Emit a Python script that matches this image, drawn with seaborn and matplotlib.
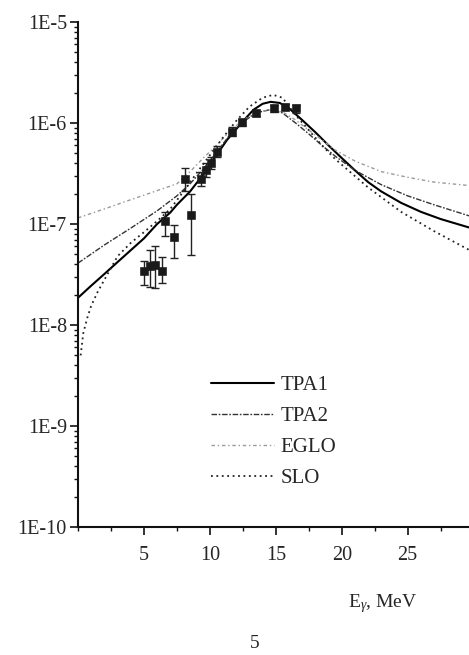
import numpy as np
import pandas as pd
import matplotlib
matplotlib.use('Agg')
import matplotlib.pyplot as plt
import matplotlib.ticker as mticker
import seaborn as sns

# --- Data (E in MeV, strength function) ---
tpa1_e = [0, 1, 2, 3, 4, 5, 6, 7, 7.5, 8.5, 9.5, 10.5, 11.3, 12.45, 13.3, 14.0, 14.6,
          15.3, 16.0, 17.0, 18.0, 19.0, 20.0, 21.0, 22.0, 23.0, 24.5, 26.0, 27.5, 29.7]
tpa1_f = [1.86e-8, 2.45e-8, 3.2e-8, 4.2e-8, 5.5e-8, 7.2e-8, 1.0e-7, 1.3e-7, 1.55e-7,
          2.1e-7, 3.1e-7, 4.8e-7, 6.8e-7, 1.02e-6, 1.35e-6, 1.55e-6, 1.62e-6,
          1.58e-6, 1.40e-6, 1.07e-6, 8.1e-7, 6.0e-7, 4.5e-7, 3.4e-7, 2.6e-7,
          2.1e-7, 1.62e-7, 1.32e-7, 1.12e-7, 9.2e-8]

tpa2_e = [0, 2, 4, 6, 7.5, 8.5, 9.5, 10.5, 11.5, 12.5, 13.5, 14.5, 15.5, 16.5,
          17.5, 18.5, 19.5, 21.0, 23.0, 25.0, 27.0, 29.7]
tpa2_f = [4.1e-8, 6.2e-8, 9.1e-8, 1.35e-7, 1.9e-7, 2.5e-7, 3.5e-7, 5.1e-7, 7.6e-7,
          1.02e-6, 1.26e-6, 1.35e-6, 1.26e-6, 1.0e-6, 7.8e-7, 6.0e-7, 4.7e-7,
          3.4e-7, 2.45e-7, 1.9e-7, 1.55e-7, 1.2e-7]

eglo_e = [0, 2, 4, 6, 7.5, 8.5, 9.5, 10.5, 11.5, 12.5, 13.5, 14.5, 15.5, 16.5,
          17.5, 18.5, 19.5, 21.0, 23.0, 25.0, 27.0, 29.7]
eglo_f = [1.15e-7, 1.41e-7, 1.74e-7, 2.14e-7, 2.5e-7, 3.3e-7, 4.5e-7, 6.0e-7,
          8.3e-7, 1.07e-6, 1.26e-6, 1.35e-6, 1.29e-6, 1.07e-6, 8.5e-7, 6.8e-7,
          5.4e-7, 4.2e-7, 3.3e-7, 2.9e-7, 2.6e-7, 2.4e-7]

slo_e = [0.2, 0.4, 0.7, 1.0, 1.5, 2, 3, 4, 5, 6, 7, 8, 9, 10, 11, 12, 13, 14,
         14.8, 15.5, 16.5, 17.5, 18.5, 19.5, 22.0, 24.5, 27.0, 29.7]
slo_f = [5.0e-9, 8.3e-9, 1.17e-8, 1.55e-8, 2.14e-8, 2.8e-8, 4.8e-8, 6.5e-8,
         8.3e-8, 1.07e-7, 1.41e-7, 2.1e-7, 3.2e-7, 4.8e-7, 7.2e-7, 1.05e-6,
         1.45e-6, 1.78e-6, 1.9e-6, 1.78e-6, 1.2e-6, 8.5e-7, 6.0e-7, 4.4e-7,
         2.3e-7, 1.32e-7, 8.5e-8, 5.5e-8]

exp_e = [5.0, 5.45, 5.85, 6.35, 6.6, 7.3, 8.1, 8.55, 9.3, 9.7, 10.06, 10.57,
         11.65, 12.45, 13.5, 14.85, 15.7, 16.5]
exp_f = [3.4e-8, 3.8e-8, 3.9e-8, 3.4e-8, 1.07e-7, 7.4e-8, 2.8e-7, 1.23e-7, 2.8e-7,
         3.4e-7, 4.0e-7, 5.2e-7, 8.2e-7, 1.02e-6, 1.25e-6, 1.40e-6, 1.45e-6, 1.40e-6]
exp_lo = [2.5e-8, 2.4e-8, 2.3e-8, 2.6e-8, 7.6e-8, 4.6e-8, 2.1e-7, 4.9e-8, 2.4e-7,
          2.9e-7, 3.5e-7, 4.6e-7, 7.4e-7, 9.4e-7, 1.16e-6, 1.30e-6, 1.35e-6, 1.27e-6]
exp_hi = [4.3e-8, 5.5e-8, 6.0e-8, 4.7e-8, 1.32e-7, 9.8e-8, 3.6e-7, 2.0e-7, 3.3e-7,
          4.0e-7, 4.6e-7, 5.9e-7, 9.1e-7, 1.10e-6, 1.35e-6, 1.50e-6, 1.56e-6, 1.52e-6]

y_ticks = [1e-10, 1e-9, 1e-8, 1e-7, 1e-6, 1e-5]
y_tick_labels = ['1E-10', '1E-9', '1E-8', '1E-7', '1E-6', '1E-5']
x_ticks = [5, 10, 15, 20, 25]

# --- Style ---
sns.set_style('ticks')
plt.rcParams['font.family'] = ['Liberation Serif', 'DejaVu Serif']
plt.rcParams['mathtext.fontset'] = 'custom'
plt.rcParams['mathtext.rm'] = 'Liberation Serif'
plt.rcParams['mathtext.it'] = 'Liberation Serif:italic'

fig = plt.figure(figsize=(4.69, 6.55), dpi=100)
ax = fig.add_axes([0.1663, 0.1954, 0.8337, 0.771])

curves = [
    ('TPA1', tpa1_e, tpa1_f, 'black', '-', 1.5),
    ('TPA2', tpa2_e, tpa2_f, '#333333', (0, (4, 1.2, 1.2, 1.2)), 1.0),
    ('EGLO', eglo_e, eglo_f, '#9a9a9a', (0, (2.5, 2, 1, 2)), 1.0),
    ('SLO', slo_e, slo_f, '#222222', (0, (1, 2)), 1.3),
]
for name, e, f, col, ls, lw in curves:
    df = pd.DataFrame({'E': e, 'f': f})
    sns.lineplot(data=df, x='E', y='f', ax=ax, color=col, linestyle=ls,
                 linewidth=lw, label=name, estimator=None, sort=True)

# experimental points with asymmetric error bars
exp = pd.DataFrame({'E': exp_e, 'f': exp_f, 'lo': exp_lo, 'hi': exp_hi})
ax.errorbar(exp['E'], exp['f'], yerr=[exp['f'] - exp['lo'], exp['hi'] - exp['f']],
            fmt='none', ecolor='#222222', elinewidth=1.0, capsize=3, capthick=1.0,
            zorder=4)
sns.scatterplot(data=exp, x='E', y='f', ax=ax, marker='s', s=30, color='#1a1a1a',
                edgecolor='#1a1a1a', zorder=5, legend=False)

ax.set_yscale('log')
ax.set_ylim(1e-10, 1e-5)
ax.set_xlim(0, 29.65)
ax.set_yticks(y_ticks)
ax.set_yticklabels(y_tick_labels)
ax.yaxis.set_minor_locator(mticker.LogLocator(base=10, subs=np.arange(2, 10)))
ax.yaxis.set_minor_formatter(mticker.NullFormatter())
ax.set_xticks(x_ticks)
ax.set_xticklabels([str(t) for t in x_ticks])
ax.xaxis.set_minor_locator(mticker.MultipleLocator(2.5))
ax.set_xlabel('')
ax.set_ylabel('')

sns.despine(ax=ax, top=True, right=True)
for s in ['left', 'bottom']:
    ax.spines[s].set_linewidth(1.5)
    ax.spines[s].set_color('#111111')
ax.tick_params(axis='both', which='major', labelsize=14.5, length=6, width=1.2,
               color='#111111', direction='out')
ax.tick_params(axis='y', which='major', pad=2)
ax.tick_params(axis='x', which='major', pad=8)
ax.tick_params(axis='both', which='minor', length=3, width=1.0, color='#111111',
               direction='out')

leg = ax.legend(loc='upper left', bbox_to_anchor=(0.32, 0.316), frameon=False,
                fontsize=15, handlelength=3.0, handletextpad=0.3,
                labelspacing=0.55, borderaxespad=0)

fig.text(0.816, 0.079, 'E$_{\\gamma}$, MeV', ha='center', va='center', fontsize=14)
fig.text(0.544, 0.018, '5', ha='center', va='center', fontsize=14)

fig.savefig('out.png', dpi=100)
